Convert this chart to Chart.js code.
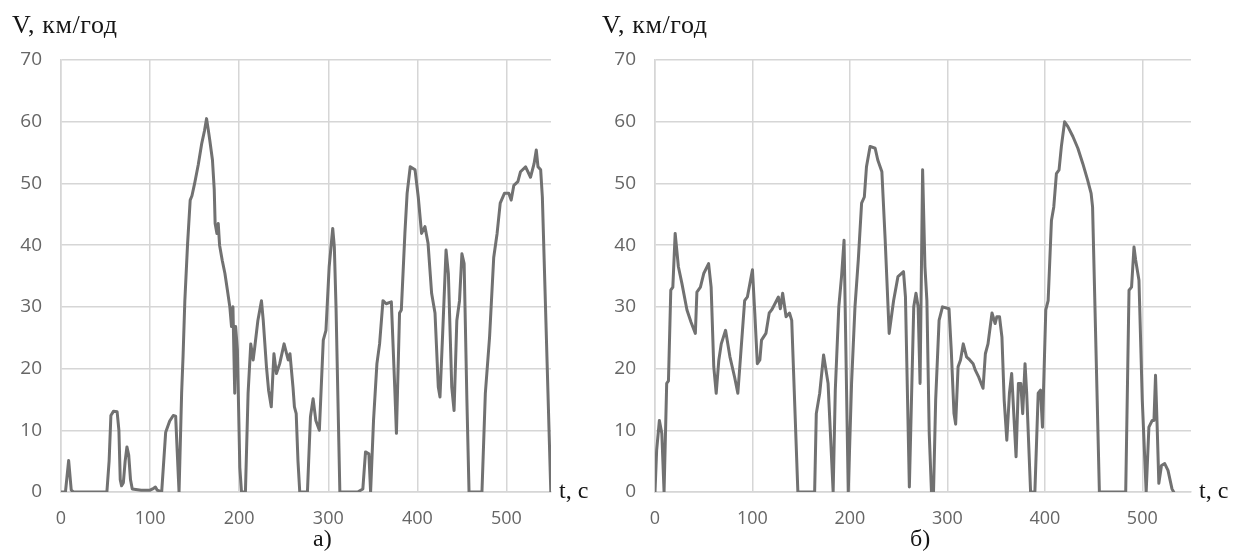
<!DOCTYPE html>
<html>
<head>
<meta charset="utf-8">
<script src="https://cdn.jsdelivr.net/npm/chart.js@4.4.1/dist/chart.umd.min.js"></script>
<style>
  html, body { margin: 0; padding: 0; background: #fff; }
  #wrap { position: relative; width: 1247px; height: 551px; overflow: hidden; }
  .box { position: absolute; top: 0; height: 551px; }
  #boxA { left: 0; width: 600px; }
  #boxB { left: 600px; width: 647px; }
</style>
</head>
<body>
<div id="wrap">
  <div class="box" id="boxA"><canvas id="chartA"></canvas></div>
  <div class="box" id="boxB"><canvas id="chartB"></canvas></div>
</div>
<script>
// speed traces, t in seconds, V in km/h
const timeA = [0, 5, 8.6, 11.5, 14, 51.5, 54, 56, 59, 63, 65, 66.5, 68, 70, 72, 74, 76, 78, 80, 90, 100, 104, 106, 108,
  113, 117.5, 122, 126, 128.7, 130, 132.5, 135.4, 137, 139, 142, 145, 147, 150, 154, 158, 161, 163.4, 165, 167, 170,
  172, 173, 175, 176.5, 178, 181, 184, 187, 189.5, 191.4, 193, 195, 196, 198, 200.7, 202.6, 207, 210, 213, 215.7,
  217.5, 221, 225, 227, 230.6, 233, 236, 239, 241.8, 245.5, 250.4, 255, 257, 260.4, 262, 264, 266, 268, 276.6, 280,
  283, 286, 290, 294.4, 297.4, 301, 305, 306.8, 308.7, 313, 333, 338.8, 341.8, 345.6, 347.5, 350.8, 354.6, 357.6,
  361.4, 365, 370.8, 374.6, 376.5, 380, 382, 386, 388.5, 392, 397.4, 401, 404.7, 408.5, 412, 416, 419.8, 423.5,
  425.4, 428.4, 432.2, 434.8, 438.6, 441.2, 444.3, 447.3, 450, 452.5, 455.6, 458, 472.5, 476.3, 481, 485.7, 489.5,
  493, 497.7, 502.6, 505.3, 508.3, 512.8, 515.8, 521.5, 527, 531, 533.5, 535.4, 538.4, 540.3, 549.8];
const speedA = [0, 0, 5.1, 0.3, 0, 0, 5, 12.4, 13.1, 13, 10, 2, 1, 1.5, 5, 7.3, 6, 2, 0.5, 0.3, 0.3, 0.6, 0.8, 0.3,
  0, 9.7, 11.5, 12.4, 12.3, 8, 0, 16, 22, 31, 40, 47.3, 48, 50, 53, 56.5, 58.5, 60.5, 59, 57, 53.8,
  49, 43.5, 41.9, 43.5, 40, 37.5, 35.4, 32.5, 30, 26.8, 30, 16, 26.8, 23, 4, 0, 0, 16, 24, 21.4,
  23.5, 27.8, 31, 27.8, 20.3, 16.5, 13.8, 22.4, 19.2, 20.8, 24, 21.4, 22.4, 17, 13.8, 12.7, 5, 0, 0, 12.2,
  15.1, 11.6, 10, 24.6, 26.2, 36.5, 42.7, 39.7, 30, 0, 0, 0.5, 6.5, 6.2, 0, 11.6, 20.8, 24,
  31, 30.5, 30.8, 17, 9.5, 29, 29.5, 41.9, 48.4, 52.7, 52.2, 47.8, 41.9, 43, 40.3, 32.2, 29, 17,
  15.4, 25.7, 39.2, 35.4, 17, 13.2, 27.8, 31, 38.6, 37, 14.9, 0, 0, 16, 25, 38, 41.9,
  46.8, 48.4, 48.4, 47.3, 49.7, 50.3, 51.9, 52.7, 51, 53.2, 55.4, 52.7, 52.2, 47.8, 0];

const timeB = [0, 1.7, 4.5, 7, 9.3, 12, 13.8, 16.2, 18.3, 20.7, 24, 27.6, 32.8, 37, 41.4, 43, 46.6, 50, 55, 57.6,
  60.3, 62.8, 65.5, 68, 72.4, 76.9, 81.7, 85, 88, 92, 94.8, 100, 102.4, 105, 107.6, 109.3, 113.8, 117.2, 119.7,
  122.4, 126.6, 128.6, 131, 134.5, 138, 140.3, 146.6, 163.8, 165.5, 169, 173, 177.6, 182.8, 185, 188.6, 191.4,
  194, 198.3, 201.7, 205.2, 208.6, 212, 214.8, 217, 220.7, 225.9, 228.6, 232.8, 236.2, 240.3, 244.8, 249.3, 255,
  257, 261, 265.5, 267.8, 270, 272, 274.6, 277, 279, 281.4, 283.7, 285.8, 288, 291.5, 295, 301.7, 304, 306.8,
  308.5, 311, 313.5, 316.3, 319.7, 323, 326.4, 328.8, 332.2, 336.6, 339, 341.7, 345.8, 349, 350.8, 353.5, 356,
  358.3, 361, 363.7, 366, 368.5, 370.5, 372.9, 375.3, 377.3, 379.7, 381.4, 385.4, 389.8, 393.2, 395.6, 397.6,
  401, 403.4, 406.8, 409.2, 411.9, 414.6, 417, 420.3, 423.7, 428.8, 433.9, 439, 444, 447.5, 449, 456, 483,
  486.4, 489, 491.5, 493.2, 496.6, 500, 504, 506.8, 510.2, 512, 513.6, 515.3, 517, 519.7, 523, 526.4, 530.5, 532.2];
const speedB = [0, 6.8, 11.6, 9.5, 0, 17.6, 18, 32.7, 33.2, 41.9, 36.5, 33.8, 29.5, 27.5, 25.7, 32.4, 33.2, 35.4, 37, 33.2,
  20.3, 16, 21.4, 24, 26.2, 21.9, 18.6, 16, 22.4, 31, 31.6, 36, 29, 20.8, 21.4, 24.6, 25.7, 29, 29.5,
  30.3, 31.6, 29.7, 32.2, 28.4, 29, 27.8, 0, 0, 12.7, 16, 22.2, 17.6, 0, 16.5, 30, 34.9,
  40.8, 0, 17.6, 30, 37.6, 46.8, 47.8, 52.7, 56, 55.7, 53.8, 51.9, 40.8, 25.7, 31, 34.9, 35.7,
  31.6, 0.8, 30, 32.2, 30, 17.6, 52.2, 36.5, 31, 9.5, 0, 0, 14.9, 27.8, 30, 29.7, 23, 12.7,
  11, 20.3, 21.4, 24, 21.9, 21.4, 20.8, 19.7, 18.6, 16.8, 22.4, 24, 29, 27.3, 28.4, 28.4, 25.1,
  14.9, 8.4, 16, 19.2, 11.6, 5.7, 17.6, 17.6, 12.7, 20.8, 16, 0, 0, 16, 16.5, 10.5,
  29.5, 31, 44, 46.2, 51.6, 52.2, 56, 60, 59.2, 57.6, 55.7, 53.2, 50.5, 48.4, 46.2, 0, 0,
  32.7, 33.2, 39.7, 37.6, 34.3, 14.9, 0, 10.5, 11.6, 11.6, 18.9, 10.5, 1.4, 4.3, 4.6, 3.5, 0.5, 0];

const xTicks = [0, 100, 200, 300, 400, 500];
const yTicks = [0, 10, 20, 30, 40, 50, 60, 70];

const GRID = '#d6d6d6';
const LINE = '#717171';
const TICK = '#666666';
const SERIF = '"Liberation Serif", "Times New Roman", serif';

// axis names and the panel letter, drawn straight onto the canvas
const captions = {
  id: 'captions',
  afterDraw(chart, args, opts) {
    const { ctx, chartArea } = chart;
    ctx.save();
    ctx.fillStyle = '#151515';
    ctx.textBaseline = 'alphabetic';
    ctx.textAlign = 'left';
    ctx.font = '26px ' + SERIF;
    ctx.letterSpacing = '0.6px';
    ctx.fillText('V, км/год', opts.yTitleX, 33);
    ctx.letterSpacing = '0px';
    ctx.font = '24px ' + SERIF;
    ctx.fillText('t, c', chartArea.right + 8, 498);
    ctx.fillText(opts.label, opts.labelX, 546);
    ctx.restore();
  }
};

function makeChart(id, times, speeds, axisWidth, rightPad, cap) {
  const points = times.map((t, i) => ({ x: t, y: speeds[i] }));
  return new Chart(document.getElementById(id), {
    type: 'line',
    data: {
      datasets: [{
        data: points,
        borderColor: LINE,
        borderWidth: 3,
        pointRadius: 0,
        tension: 0,
        borderJoinStyle: 'round',
        borderCapStyle: 'round'
      }]
    },
    options: {
      responsive: true,
      maintainAspectRatio: false,
      animation: false,
      layout: { padding: { top: 60, right: rightPad, left: 0, bottom: 0 } },
      plugins: {
        legend: { display: false },
        tooltip: { enabled: false },
        captions: cap
      },
      scales: {
        x: {
          type: 'linear',
          min: 0,
          max: 550,
          afterBuildTicks: (scale) => { scale.ticks = xTicks.map(v => ({ value: v })); },
          afterFit: (scale) => { scale.height = 59; },
          grid: { color: GRID, lineWidth: 1.5, drawTicks: false },
          border: { color: GRID, width: 1.5 },
          ticks: { color: TICK, padding: 16, font: { family: '"Open Sans", sans-serif', size: 18 } }
        },
        y: {
          min: 0,
          max: 70,
          afterBuildTicks: (scale) => { scale.ticks = yTicks.map(v => ({ value: v })); },
          afterFit: (scale) => { scale.width = axisWidth; },
          grid: { color: GRID, lineWidth: 1.5, drawTicks: false },
          border: { color: GRID, width: 1.5 },
          ticks: { color: TICK, padding: 19, font: { family: '"Open Sans", sans-serif', size: 19 } }
        }
      }
    },
    plugins: [captions]
  });
}

makeChart('chartA', timeA, speedA, 61, 49, { yTitleX: 12, label: 'а)', labelX: 313 });
makeChart('chartB', timeB, speedB, 55, 56, { yTitleX: 2, label: 'б)', labelX: 310 });
</script>
</body>
</html>
